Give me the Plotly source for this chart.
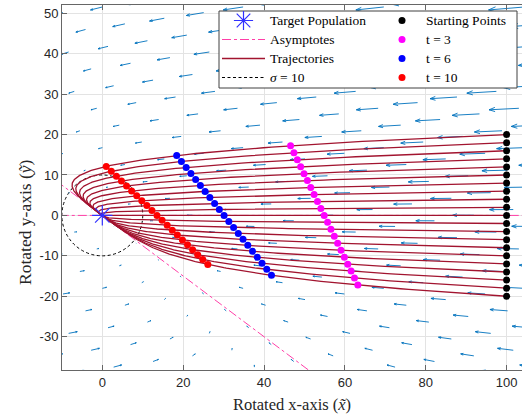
import numpy as np
import plotly.graph_objects as go

# ---------------- values ----------------
START_X = 100.0
START_Y = [-20, -18, -16, -14, -12, -10, -8, -6, -4, -2, 0,
           2, 4, 6, 8, 10, 12, 14, 16, 18, 20]
MARK_TIMES = [3, 6, 10]
MARK_NAMES = ["t = 3", "t = 6", "t = 10"]
MARK_COLORS = ["#FF00FF", "#0000FF", "#FF0000"]
FAST_RATE = 0.20          # decay rate along the horizontal asymptote
SLOW_RATE = 0.05          # decay rate along the slanted asymptote
ASYMPTOTE_SLOPES = [0.0, -0.75]
SIGMA = 10
TARGET_X = [0.0]
TARGET_Y = [0.0]
# quiver lattice, in the un-rotated frame (rotation cos=0.8, sin=0.6)
GRID_U = [-44.84, -37.88, -30.92, -23.96, -17.0, -10.04, -3.08, 3.88, 10.84,
          17.80, 24.76, 31.72, 38.68, 45.64, 52.60, 59.56, 66.52, 73.48,
          80.44, 87.40, 94.36, 101.32, 108.28, 115.24]
GRID_V = [-42.26, -35.30, -28.34, -21.38, -14.42, -7.46, -0.50, 6.46, 13.42,
          20.38, 27.34, 34.30, 41.26, 48.22, 55.18, 62.14, 69.10, 76.06,
          83.02, 89.98, 96.94, 103.90, 110.86]
ROT_COS, ROT_SIN = 0.8, 0.6
QUIVER_SCALE = 0.285
X_TICKS = [0, 20, 40, 60, 80, 100]
Y_TICKS = [-30, -20, -10, 0, 10, 20, 30, 40, 50]
X_RANGE = [-9.97, 103.8]
Y_RANGE = [-38.24, 52.05]

K = -ASYMPTOTE_SLOPES[1]


def solution(y0, t):
    e1 = np.exp(-FAST_RATE * np.asarray(t, dtype=float))
    e2 = np.exp(-SLOW_RATE * np.asarray(t, dtype=float))
    x = START_X * e1 + (y0 / K) * (e1 - e2)
    y = y0 * e2
    return x, y


def field(x, y):
    u = -FAST_RATE * x - (FAST_RATE - SLOW_RATE) * y / K
    v = -SLOW_RATE * y
    return u, v


def lg(name):
    return '<span style="font-size:13.5px">' + name + "</span>"


fig = go.Figure()

# ---- quiver ----
U, V = np.meshgrid(GRID_U, GRID_V)
qx = ROT_COS * U + ROT_SIN * V
qy = -ROT_SIN * U + ROT_COS * V
qu, qv = field(qx, qy)
qu = qu * QUIVER_SCALE
qv = qv * QUIVER_SCALE
alpha, beta = 0.2, 0.35
lx, ly = [], []
for x0, y0, du, dv in zip(qx.ravel(), qy.ravel(), qu.ravel(), qv.ravel()):
    hx, hy = x0 + du, y0 + dv
    lx += [x0, hx, None,
           hx - alpha * (du + beta * dv), hx, hx - alpha * (du - beta * dv), None]
    ly += [y0, hy, None,
           hy - alpha * (dv - beta * du), hy, hy - alpha * (dv + beta * du), None]
fig.add_trace(go.Scatter(x=lx, y=ly, mode="lines",
                         line=dict(color="#0072BD", width=0.9),
                         hoverinfo="skip", showlegend=False))

# ---- asymptotes ----
ax_x, ax_y = [], []
for m in ASYMPTOTE_SLOPES:
    xs = np.array([X_RANGE[0] - 5, X_RANGE[1] + 5])
    ax_x += list(xs) + [None]
    ax_y += list(m * xs) + [None]
fig.add_trace(go.Scatter(x=ax_x, y=ax_y, mode="lines", name=lg("Asymptotes"),
                         line=dict(color="#FF3FA8", width=1, dash="dashdot"),
                         legend="legend", legendrank=2))

# ---- trajectories ----
t_dense = np.linspace(0, 160, 900)
tx, ty = [], []
for y0 in START_Y:
    x, y = solution(y0, t_dense)
    tx += list(x) + [None]
    ty += list(y) + [None]
fig.add_trace(go.Scatter(x=tx, y=ty, mode="lines", name=lg("Trajectories"),
                         line=dict(color="#A2142F", width=1.3),
                         legend="legend", legendrank=3))

# ---- sigma circle (legend entry) ----
fig.add_shape(type="circle", xref="x", yref="y",
              x0=-SIGMA, x1=SIGMA, y0=-SIGMA, y1=SIGMA,
              line=dict(color="black", width=1, dash="3px,2.5px"),
              layer="between")
fig.add_trace(go.Scatter(x=[None], y=[None], mode="lines",
                         name=lg("<i>σ</i> = 10"),
                         line=dict(color="black", width=1, dash="3px,2.5px"),
                         legend="legend", legendrank=4))

# ---- points ----
fig.add_trace(go.Scatter(x=[START_X] * len(START_Y), y=START_Y, mode="markers",
                         name=lg("Starting Points"),
                         marker=dict(color="black", size=7),
                         legend="legend2", legendrank=1))
for i, (tm, nm, col) in enumerate(zip(MARK_TIMES, MARK_NAMES, MARK_COLORS)):
    px_, py_ = [], []
    for y0 in START_Y:
        x, y = solution(y0, tm)
        px_.append(float(x))
        py_.append(float(y))
    fig.add_trace(go.Scatter(x=px_, y=py_, mode="markers", name=lg(nm),
                             marker=dict(color=col, size=7),
                             legend="legend2", legendrank=2 + i))

fig.add_trace(go.Scatter(x=TARGET_X, y=TARGET_Y, mode="markers",
                         name=lg("Target Population"),
                         marker=dict(symbol="asterisk-open", size=17,
                                     color="#3030FF",
                                     line=dict(color="#3030FF", width=1.2)),
                         legend="legend", legendrank=1))

# ---- legend box ----
fig.add_shape(type="rect", xref="paper", yref="paper",
              x0=(219 - 62) / 460, x1=(517 - 62) / 460,
              y0=(370 - 88) / 365, y1=(370 - 11) / 365,
              fillcolor="white", line=dict(color="#404040", width=1),
              layer="above")

serif = "Liberation Serif, Times New Roman, serif"
sans = "Liberation Sans, Arial, sans-serif"
axis_common = dict(
    showline=True, linecolor="#666666", linewidth=1,
    ticks="inside", ticklen=4.6, tickcolor="#666666", tickwidth=1,
    showgrid=True, gridcolor="#e3e3e3", gridwidth=1, zeroline=False,
    tickfont=dict(family=sans, size=13, color="#262626"),
)
fig.update_layout(
    width=522, height=416,
    margin=dict(l=62, r=0, t=5, b=46),
    paper_bgcolor="white", plot_bgcolor="white",
    xaxis=dict(range=X_RANGE, tickvals=X_TICKS,
               ticktext=[str(v) for v in X_TICKS], mirror="ticks",
               title=dict(text="Rotated x-axis (<i>x\u0303</i>)",
                          font=dict(family=serif, size=16.5, color="#262626"),
                          standoff=9),
               **axis_common),
    yaxis=dict(range=Y_RANGE, tickvals=Y_TICKS,
               ticktext=[str(v) for v in Y_TICKS],
               **axis_common),
    legend=dict(x=(217 - 62) / 460, xanchor="left", y=(370 - 6) / 365,
                yanchor="top", bgcolor="rgba(0,0,0,0)", borderwidth=0,
                itemwidth=43, font=dict(family=serif, size=12, color="black")),
    legend2=dict(x=(378 - 62) / 460, xanchor="left", y=(370 - 6) / 365,
                 yanchor="top", bgcolor="rgba(0,0,0,0)", borderwidth=0,
                 itemwidth=38, font=dict(family=serif, size=12, color="black")),
    annotations=[dict(text="Rotated y-axis (<i>\u1ef9</i>)", textangle=-90,
                      xref="paper", yref="paper",
                      x=(25 - 62) / 460, y=(370 - 222) / 365,
                      xanchor="center", yanchor="middle", showarrow=False,
                      font=dict(family=serif, size=17.5, color="#262626"))],
)

fig.write_html("out.html")
